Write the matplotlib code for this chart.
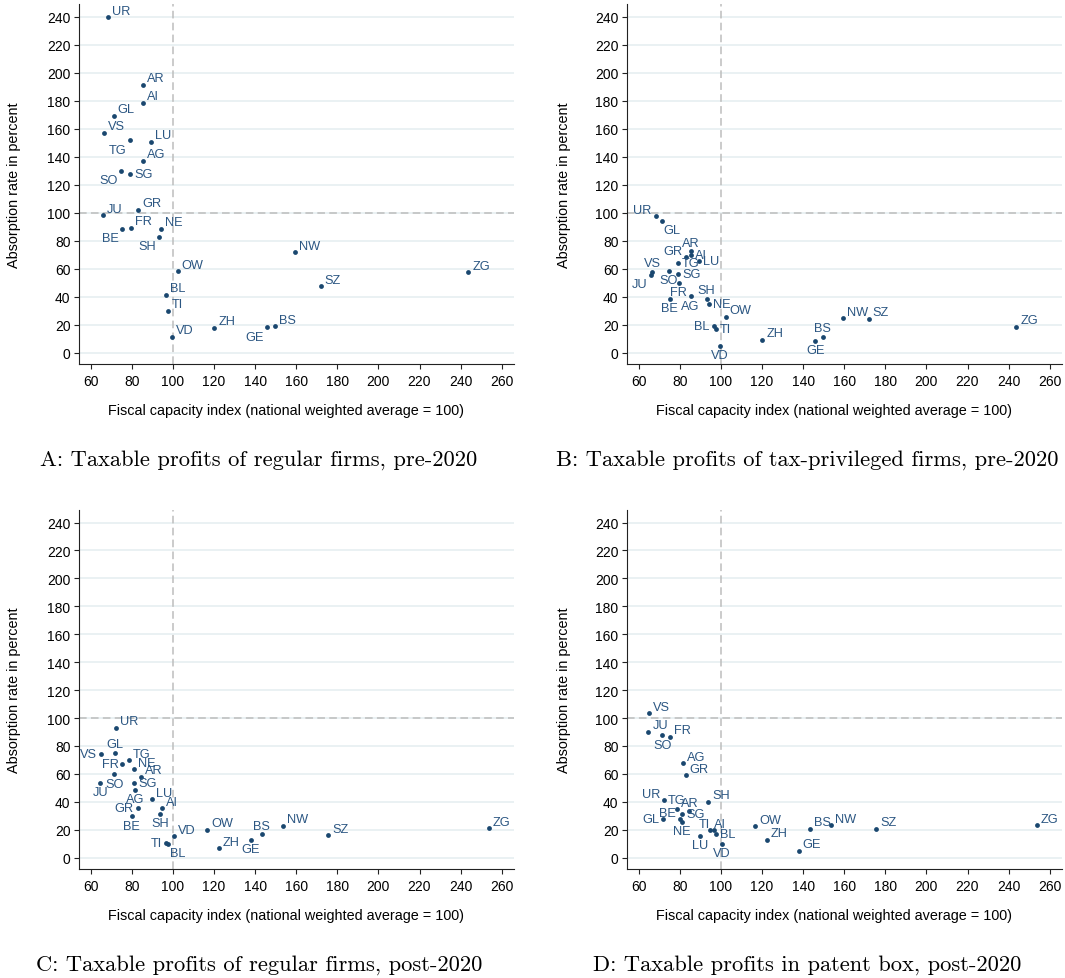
import matplotlib
matplotlib.use("Agg")
import matplotlib.pyplot as plt

# ---------------- data ----------------
cantons = ["ZH", "BE", "LU", "UR", "SZ", "OW", "NW", "GL", "ZG", "FR", "SO", "BS", "BL",
           "SH", "AR", "AI", "SG", "GR", "AG", "TG", "TI", "VD", "VS", "NE", "GE", "JU"]

# Fiscal capacity index, pre-2020 (panels A, B)
x_pre = [120.1, 75.1, 89.4, 68.2, 172.0, 102.3, 159.6, 71.1, 243.8, 79.5, 74.7, 149.6, 96.5,
         93.0, 85.5, 85.4, 79.2, 83.2, 85.2, 79.0, 97.5, 99.6, 66.6, 94.2, 145.9, 65.8]
# Fiscal capacity index, post-2020 (panels C, D)
x_post = [122.4, 79.9, 90.0, 72.4, 175.7, 116.8, 153.6, 71.9, 253.7, 75.4, 71.4, 143.3, 97.8,
          93.8, 84.6, 94.6, 81.1, 82.8, 81.4, 78.4, 96.4, 100.5, 64.9, 81.0, 137.8, 64.7]

y_A = [17.9, 88.4, 150.7, 239.6, 47.4, 58.1, 71.7, 169.1, 57.4, 89.3, 129.8, 18.9, 41.4,
       82.6, 191.4, 178.6, 127.9, 102.0, 136.9, 151.7, 30.0, 11.2, 156.9, 88.4, 18.1, 98.1]
y_B = [9.1, 38.4, 65.5, 97.4, 24.1, 25.5, 24.6, 94.3, 18.6, 50.0, 58.6, 11.4, 18.9,
       38.4, 72.4, 70.1, 56.2, 68.6, 40.3, 64.3, 16.7, 5.0, 57.9, 35.0, 8.6, 55.7]
y_C = [6.6, 29.6, 41.8, 92.9, 16.2, 20.0, 22.7, 75.0, 21.2, 67.4, 59.9, 16.7, 10.0,
       31.3, 58.1, 35.3, 53.8, 35.6, 48.7, 69.7, 10.5, 15.2, 74.1, 63.3, 12.9, 53.5]
y_D = [12.9, 27.7, 15.7, 41.6, 20.8, 22.5, 23.4, 28.0, 23.2, 86.7, 87.7, 20.9, 17.3,
       40.0, 33.2, 19.8, 31.3, 59.0, 67.8, 35.2, 19.8, 10.0, 103.4, 25.8, 4.8, 90.3]

captions = ["A: Taxable profits of regular firms, pre-2020",
            "B: Taxable profits of tax-privileged firms, pre-2020",
            "C: Taxable profits of regular firms, post-2020",
            "D: Taxable profits in patent box, post-2020"]

xlabel = "Fiscal capacity index (national weighted average = 100)"
ylabel = "Absorption rate in percent"
xticks = list(range(60, 261, 20))
yticks = list(range(0, 241, 20))

# label placement (default: upper right)
pos_A = {"TG": "dl", "SO": "dl", "SG": "r", "BE": "dl", "SH": "dl", "GE": "dl"}
pos_B = {"UR": "ul", "GL": "dr", "AR": "u", "GR": "ul", "AI": "r", "TG": "r", "LU": "r",
         "VS": "u", "JU": "dl", "SO": "d", "SG": "r", "FR": "d", "BE": "d", "AG": "d",
         "SH": "u", "NE": "r", "BL": "l", "TI": "r", "VD": "d", "BS": "u", "GE": "d"}
pos_C = {"GL": "u", "VS": "l", "FR": "l", "SO": "d", "JU": "d", "SG": "r", "AG": "d",
         "GR": "l", "SH": "d", "BE": "d", "TI": "l", "BL": "dr", "GE": "d", "BS": "u"}
pos_D = {"SO": "d", "UR": "ul", "TG": "u", "AR": "u", "SG": "r", "BE": "ul", "NE": "d",
         "GL": "l", "TI": "ul", "BL": "r", "LU": "d", "VD": "d"}

# offsets in pixels (dx, dy, ha)
OFFS = {"ur": (4, 6.5, "left"), "r": (4, 0, "left"), "l": (-4, 0, "right"),
        "u": (0, 8.5, "center"), "d": (0, -9.5, "center"), "ul": (-4, 6, "right"),
        "dl": (-3, -9.5, "right"), "dr": (2, -9.5, "left")}

# ---------------- style ----------------
W, H = 1065, 979
DPI = 100
navy = "#1a476f"
labcol = "#2b5682"
gridcol = "#e6eff1"
refcol = "#bdbdbd"
plt.rcParams["font.family"] = ["Liberation Sans", "DejaVu Sans"]

fig = plt.figure(figsize=(W / DPI, H / DPI), dpi=DPI)

panels = [
    (x_pre, y_A, pos_A, (79.3, 5, 514, 365)),
    (x_pre, y_B, pos_B, (627.3, 5, 1062, 365)),
    (x_post, y_C, pos_C, (79.3, 511, 514, 870)),
    (x_post, y_D, pos_D, (627.3, 511, 1062, 870)),
]

px2pt = 72.0 / DPI

for i, (xs, ys, pos, (l, t, r, b)) in enumerate(panels):
    ax = fig.add_axes([l / W, 1 - b / H, (r - l) / W, (b - t) / H])
    ax.set_xlim(54.4, 266.0)
    ax.set_ylim(-8.1, 249)
    ax.set_xticks(xticks)
    ax.set_yticks(yticks)
    for s in ["top", "right"]:
        ax.spines[s].set_visible(False)
    for s in ["left", "bottom"]:
        ax.spines[s].set_color("#222222")
        ax.spines[s].set_linewidth(0.8)
    ax.tick_params(direction="out", length=3.8, width=0.8, color="#222222",
                   labelsize=10, pad=2.5)
    ax.tick_params(axis="x", pad=3.5)
    ax.grid(axis="y", color=gridcol, linewidth=1.2)
    ax.set_axisbelow(True)
    ax.axvline(100, color=refcol, linewidth=1.1, linestyle=(0, (5, 2.8)), zorder=1)
    ax.axhline(100, color=refcol, linewidth=1.1, linestyle=(0, (5, 2.8)), zorder=1)
    ax.scatter(xs, ys, s=12, color=navy, zorder=3, linewidths=0)
    for c, xv, yv in zip(cantons, xs, ys):
        dx, dy, ha = OFFS[pos.get(c, "ur")]
        ax.annotate(c, (xv, yv), xytext=(dx * px2pt, dy * px2pt),
                    textcoords="offset points", ha=ha, va="center",
                    fontsize=9.2, color=labcol, zorder=4)
    ax.set_xlabel(xlabel, fontsize=10.4)
    ax.set_ylabel(ylabel, fontsize=10.4)
    aw, ah = r - l, b - t
    xc = 285.5 if i % 2 == 0 else 834.5
    ax.xaxis.set_label_coords((xc - l) / aw, -39.0 / ah)
    ax.yaxis.set_label_coords(-(l - (21 if i % 2 == 0 else 571)) / aw, 0.5)

cap_y = [460, 460, 965, 965]
cap_x = [259, 807, 259, 807]
for i, cap in enumerate(captions):
    fig.text(cap_x[i] / W, 1 - cap_y[i] / H, cap, ha="center", va="center",
             fontsize=16.2, family="cmr10")

fig.savefig("out.png", dpi=DPI)
